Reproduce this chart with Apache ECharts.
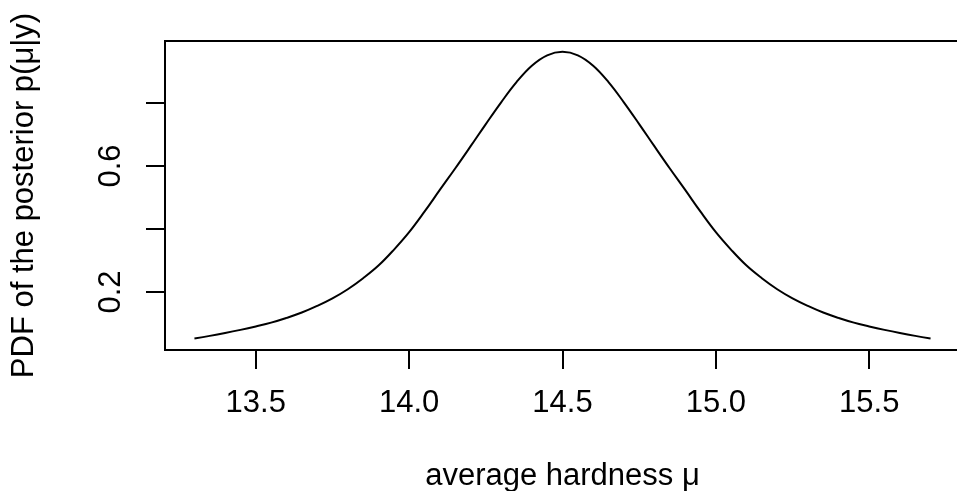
<!DOCTYPE html>
<html>
<head>
    <meta charset="utf-8" />
    <title>posterior pdf</title>
    <script src="https://cdn.jsdelivr.net/npm/echarts@6/dist/echarts.min.js"></script>
    <style>
        html, body { margin: 0; padding: 0; background: #fff; }
    </style>
</head>
<body>
<div id="main" style="width: 957px;height:491px;"></div>
<script type="text/javascript">
    // values (step 0.05)
    var mu = [13.30, 13.35, 13.40, 13.45, 13.50, 13.55, 13.60, 13.65, 13.70, 13.75,
              13.80, 13.85, 13.90, 13.95, 14.00, 14.05, 14.10, 14.15, 14.20, 14.25,
              14.30, 14.35, 14.40, 14.45, 14.50, 14.55, 14.60, 14.65, 14.70, 14.75,
              14.80, 14.85, 14.90, 14.95, 15.00, 15.05, 15.10, 15.15, 15.20, 15.25,
              15.30, 15.35, 15.40, 15.45, 15.50, 15.55, 15.60, 15.65, 15.70];
    var density = [0.053, 0.061, 0.070, 0.080, 0.091, 0.103, 0.118, 0.135, 0.156, 0.180,
                   0.209, 0.244, 0.284, 0.334, 0.390, 0.455, 0.524, 0.592, 0.662, 0.733,
                   0.802, 0.866, 0.918, 0.951, 0.962, 0.951, 0.918, 0.866, 0.802, 0.733,
                   0.662, 0.592, 0.524, 0.455, 0.390, 0.334, 0.284, 0.244, 0.209, 0.180,
                   0.156, 0.135, 0.118, 0.103, 0.091, 0.080, 0.070, 0.061, 0.053];
    var xTicks = [13.5, 14.0, 14.5, 15.0, 15.5];
    var yTicks = [0.2, 0.4, 0.6, 0.8];
    var yLabels = [0.2, 0.6];

    var points = [];
    for (var i = 0; i < mu.length; i++) {
        points.push([mu[i], density[i]]);
    }

    var font = '"Liberation Sans", Arial, Helvetica, sans-serif';
    var myChart = echarts.init(document.getElementById('main'), null, {renderer: 'canvas'});

    var option = {
        backgroundColor: '#fff',
        animation: false,
        grid: {
            left: 165,
            top: 41,
            bottom: 141,
            right: -3,
            containLabel: false,
            outerBoundsMode: 'none',
            show: true,
            borderColor: '#000',
            borderWidth: 2
        },
        xAxis: {
            type: 'value',
            min: 13.204,
            max: 15.796,
            name: 'average hardness μ',
            nameLocation: 'middle',
            nameGap: 111,
            nameTextStyle: {color: '#000', fontSize: 31, fontFamily: font},
            axisLine: {show: true, lineStyle: {color: '#000', width: 2}},
            axisTick: {show: true, length: 19, customValues: xTicks, lineStyle: {color: '#000', width: 2}},
            axisLabel: {
                customValues: xTicks,
                margin: 38,
                color: '#000',
                fontSize: 31,
                fontFamily: font,
                formatter: function (v) { return v.toFixed(1); }
            },
            splitLine: {show: false}
        },
        yAxis: {
            type: 'value',
            min: 0.0162,
            max: 0.9965,
            name: 'PDF of the posterior p(μ|y)',
            nameLocation: 'middle',
            nameRotate: 90,
            nameGap: 125,
            nameTextStyle: {color: '#000', fontSize: 31, fontFamily: font},
            axisLine: {show: true, lineStyle: {color: '#000', width: 2}},
            axisTick: {show: true, length: 19, customValues: yTicks, lineStyle: {color: '#000', width: 2}},
            axisLabel: {
                customValues: yLabels,
                rotate: 90,
                margin: 38,
                color: '#000',
                fontSize: 31,
                fontFamily: font,
                formatter: function (v) { return v.toFixed(1); }
            },
            splitLine: {show: false}
        },
        series: [
            {
                type: 'line',
                data: points,
                smooth: 0.4,
                showSymbol: false,
                lineStyle: {color: '#000', width: 2}
            }
        ]
    };

    myChart.setOption(option);
</script>
</body>
</html>
